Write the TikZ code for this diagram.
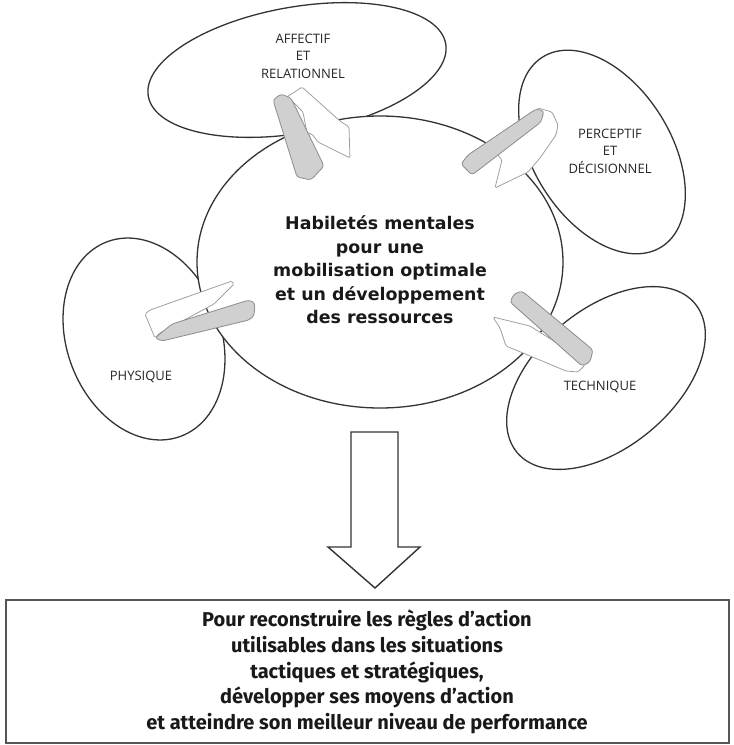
\documentclass[tikz,border=0pt]{standalone}
\usepackage{fontspec}
\newfontfamily\labfont{Open Sans}
\newfontfamily\cenfont{DejaVu Sans}
\newfontfamily\boxfont{Fira Sans}
\definecolor{ln}{HTML}{333333}
\definecolor{gfill}{HTML}{D0D0D0}
\definecolor{gline}{HTML}{8C8C8C}
\definecolor{wline}{HTML}{A0A0A0}
\definecolor{boxline}{HTML}{555555}
\tikzset{
  ell/.style={draw=ln, line width=1.3pt, fill=white},
  greyband/.style={fill=gfill, draw=gline, line width=0.8pt, rounded corners=3pt},
  whiteband/.style={fill=white, draw=wline, line width=0.8pt, rounded corners=1.5pt},
  lab/.style={font=\labfont\fontsize{13}{17.5}\selectfont, align=center, text=black!85, inner sep=0pt},
  centxt/.style={font=\cenfont\bfseries\fontsize{17.4}{23.5}\selectfont, align=center, text=black!90, inner sep=0pt},
  boxtxt/.style={font=\boxfont\bfseries\fontsize{20}{25.7}\selectfont, align=center, text=black!90, inner sep=0pt},
  bigarrow/.style={draw=ln, line width=1.4pt, fill=white, line join=miter}
}
\begin{document}
\begin{tikzpicture}[x=1pt,y=-1pt]
\useasboundingbox (0,0) rectangle (734,745);
% satellite ellipses
\draw[ell, rotate around={10:(297,70)}] (297,70) ellipse [x radius=151pt, y radius=63pt];
\draw[ell, rotate around={-58:(602,152)}] (602,152) ellipse [x radius=112pt, y radius=69pt];
\draw[ell, rotate around={-69:(144,339)}] (144,339) ellipse [x radius=104pt, y radius=77pt];
\draw[ell, rotate around={40:(606,378)}] (606,378) ellipse [x radius=116pt, y radius=69pt];
% central ellipse
\draw[ell] (380,262) ellipse [x radius=183pt, y radius=146pt];
% top-left loop arrow
\draw[whiteband] (284,99) -- (302,87) -- (340,121) -- (349,127) -- (350,158) -- (318,142) -- (312,134) -- (307,133) -- (303,112) -- (292,101) -- cycle;
\draw[greyband] (273,100) -- (281,94) -- (291,98) -- (324,166) -- (311,180) -- (297,177) -- cycle;
% top-right loop arrow
\draw[whiteband] (538,108) -- (552,112) -- (558,125) -- (556,135) -- (540,158) -- (528,172) -- (495,188) -- (502,160) -- (497,154) -- (520,130) -- cycle;
\draw[greyband] (461,164) -- (468,155) -- (536,109) -- (544,111) -- (541,122) -- (472,175) -- cycle;
% left loop arrow
\draw[whiteband] (145,314) -- (150,310) -- (232,281) -- (234,284) -- (214,304) -- (160,333) -- (155,338) -- cycle;
\draw[greyband] (155,338) -- (172,324) -- (249,300) -- (255,303) -- (254,316) -- (249,320) -- (162,341) -- cycle;
% bottom-right loop arrow
\draw[whiteband] (493,317) -- (530,326) -- (560,345) -- (585,365) -- (578,372) -- (566,371) -- (523,353) -- (506,346) -- (500,328) -- cycle;
\draw[greyband] (510,302) -- (514,294) -- (522,291) -- (593,350) -- (590,362) -- (582,366) -- cycle;
% labels
\node[lab] (aff) at (303,56) {AFFECTIF\\ET\\RELATIONNEL};
\node[lab] (per) at (610,151) {PERCEPTIF\\ET\\DÉCISIONNEL};
\node[lab] (phy) at (141,377) {PHYSIQUE};
\node[lab] (tec) at (600,387) {TECHNIQUE};
\node[centxt] (hab) at (380,270) {Habiletés mentales\\pour une\\mobilisation optimale\\et un développement\\des ressources};
% big down arrow
\coordinate (a1) at (351,432);
\coordinate (a2) at (398,432);
\draw[bigarrow] (a1) -- (a2) -- (398,547) -- (420,547) -- (375,588) -- (328,547) -- (351,547) -- cycle;
% bottom box
\draw[draw=boxline, line width=1.5pt] (6,600) rectangle (729,743);
\node[boxtxt] (res) at (367,672) {Pour reconstruire les règles d’action\\utilisables dans les situations\\tactiques et stratégiques,\\développer ses moyens d’action\\et atteindre son meilleur niveau de performance};
\end{tikzpicture}
\end{document}
